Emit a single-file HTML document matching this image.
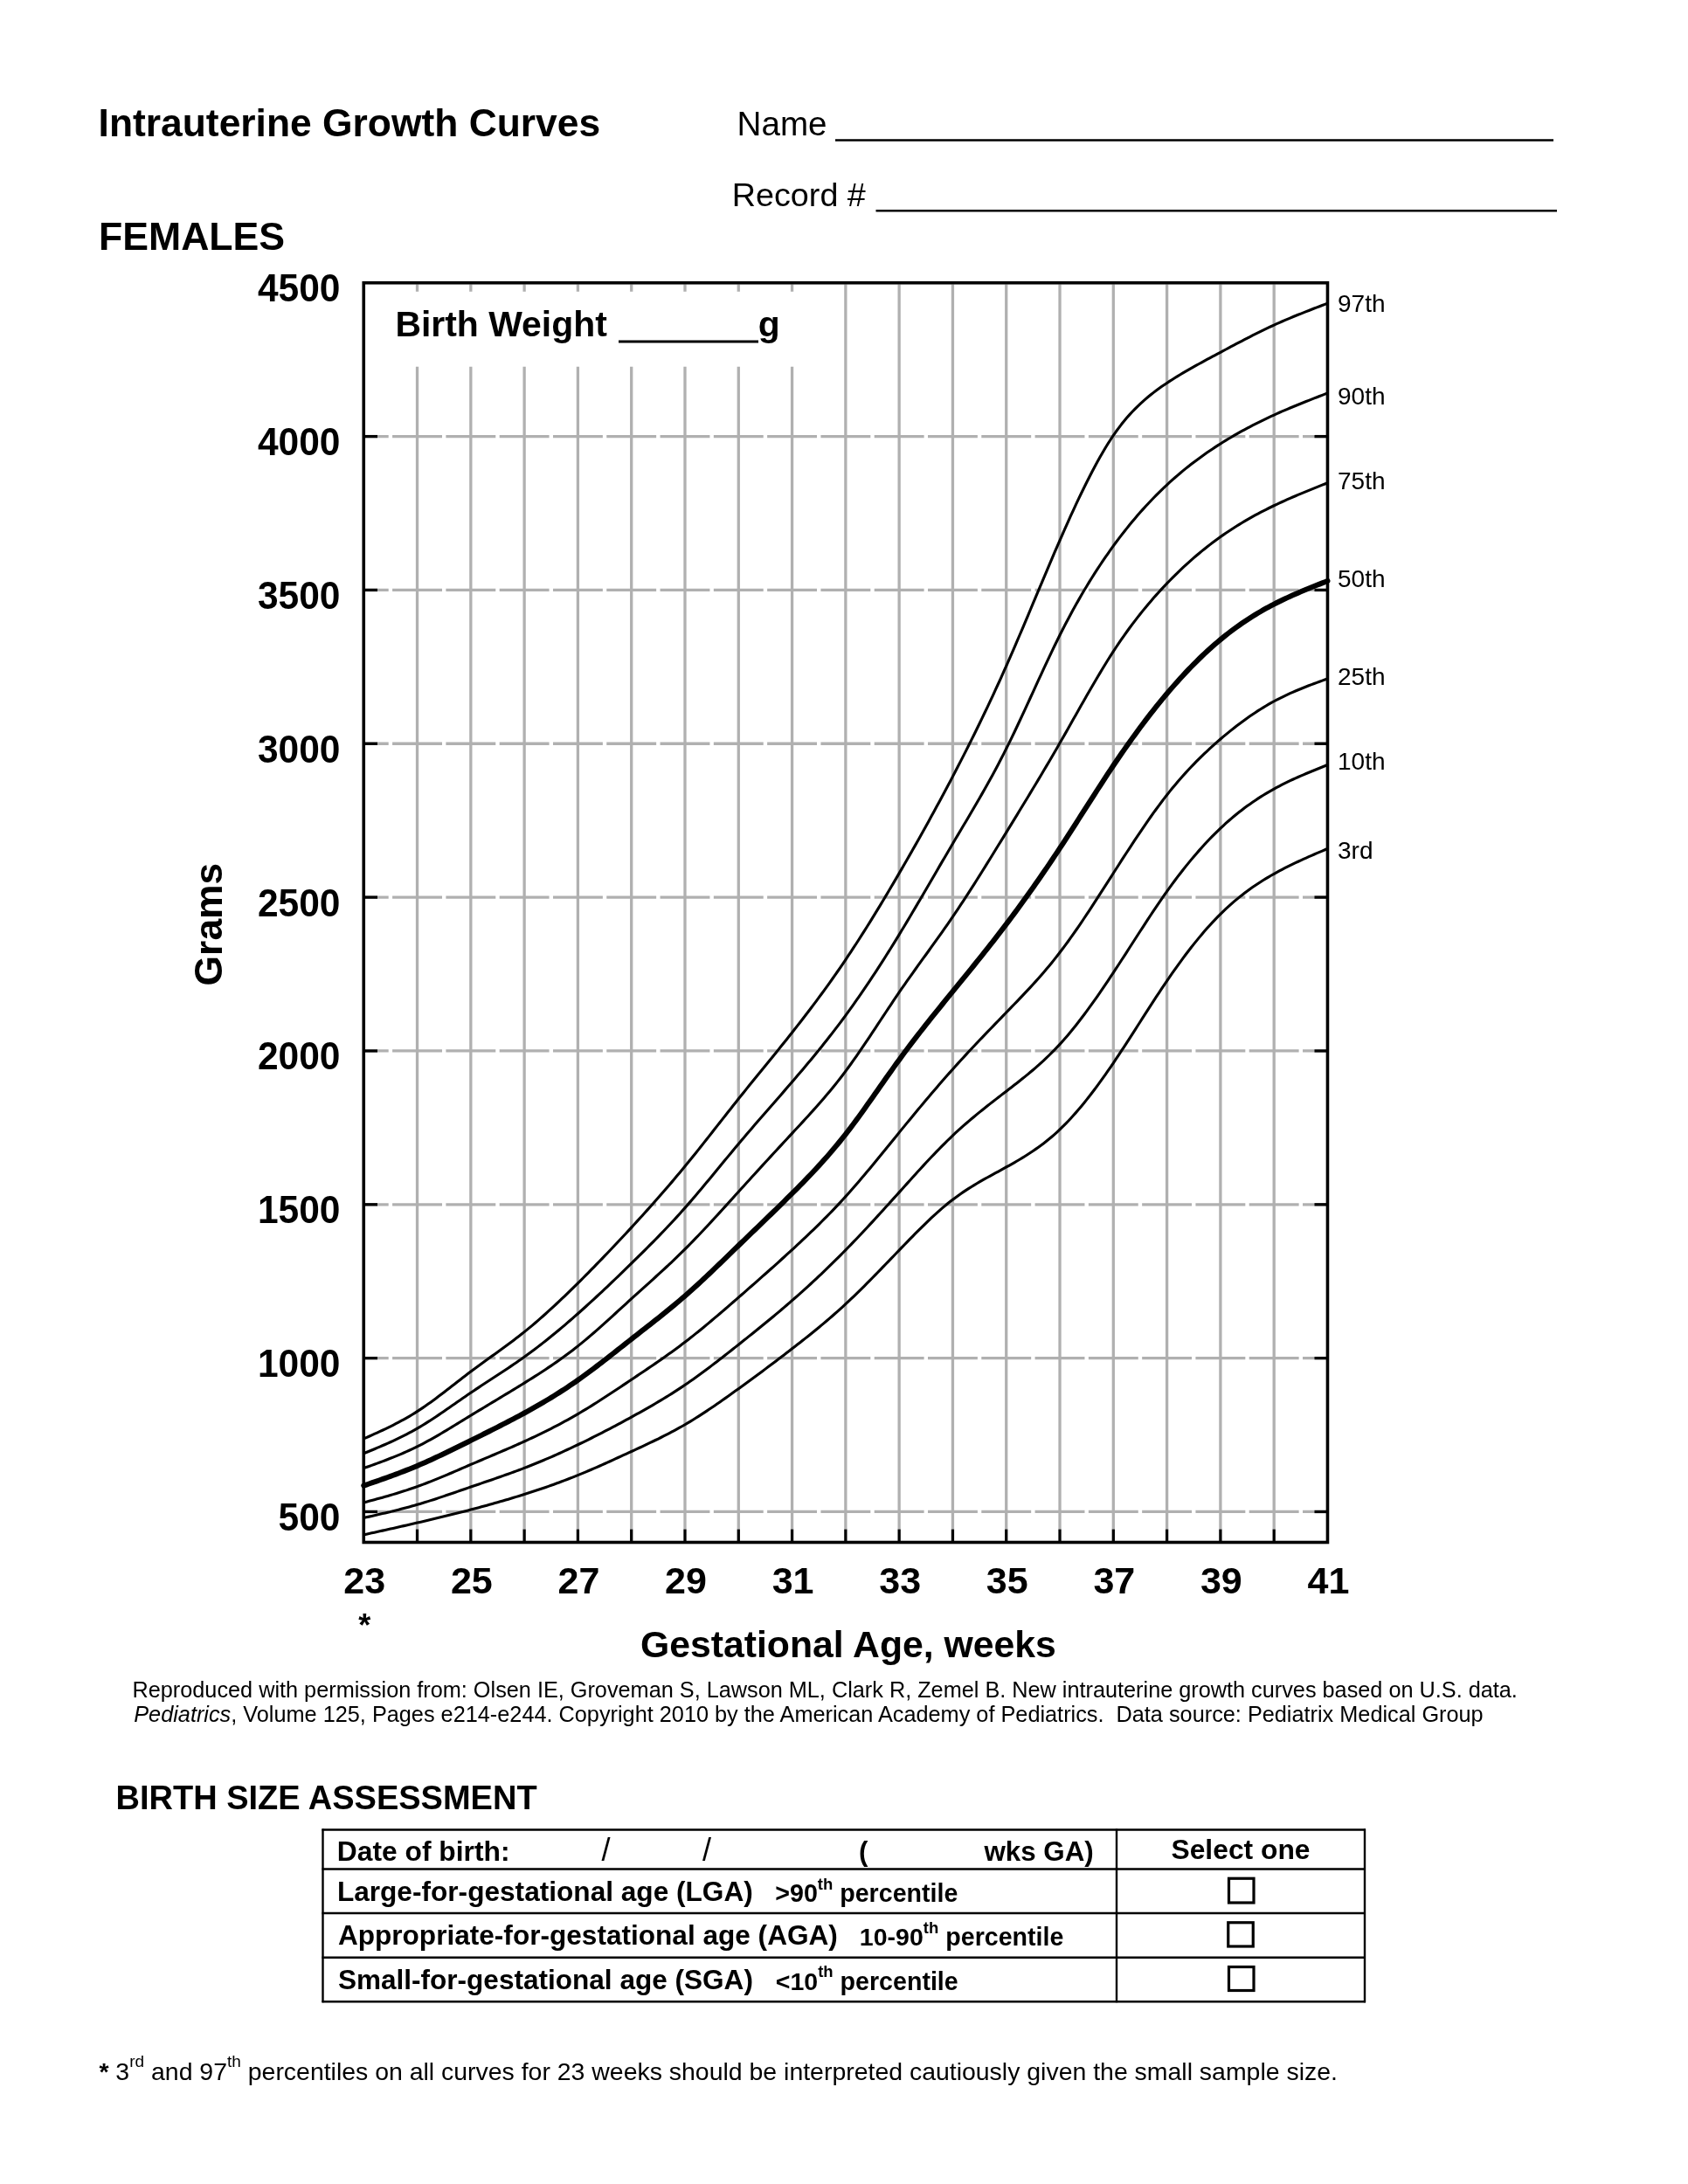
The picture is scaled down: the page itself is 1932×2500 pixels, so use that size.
<!DOCTYPE html>
<html><head><meta charset="utf-8"><title>Intrauterine Growth Curves - Females</title>
<style>
html,body{margin:0;padding:0;background:#fff;}
svg{display:block;filter:grayscale(100%);}
text{font-family:"Liberation Sans", Arial, Helvetica, sans-serif;fill:#000;}
</style></head>
<body>
<svg width="1932" height="2500" viewBox="0 0 1932 2500">
<rect x="0" y="0" width="1932" height="2500" fill="#fff"/>
<g id="chart">
<line x1="477.54" y1="325.5" x2="477.54" y2="333.8" stroke="#b0b0b0" stroke-width="3.3"/>
<line x1="477.54" y1="419.7" x2="477.54" y2="1750.5" stroke="#b0b0b0" stroke-width="3.3"/>
<line x1="477.54" y1="1750.5" x2="477.54" y2="1765" stroke="#000" stroke-width="3.3"/>
<line x1="538.83" y1="325.5" x2="538.83" y2="333.8" stroke="#b0b0b0" stroke-width="3.3"/>
<line x1="538.83" y1="419.7" x2="538.83" y2="1750.5" stroke="#b0b0b0" stroke-width="3.3"/>
<line x1="538.83" y1="1750.5" x2="538.83" y2="1765" stroke="#000" stroke-width="3.3"/>
<line x1="600.12" y1="325.5" x2="600.12" y2="333.8" stroke="#b0b0b0" stroke-width="3.3"/>
<line x1="600.12" y1="419.7" x2="600.12" y2="1750.5" stroke="#b0b0b0" stroke-width="3.3"/>
<line x1="600.12" y1="1750.5" x2="600.12" y2="1765" stroke="#000" stroke-width="3.3"/>
<line x1="661.41" y1="325.5" x2="661.41" y2="333.8" stroke="#b0b0b0" stroke-width="3.3"/>
<line x1="661.41" y1="419.7" x2="661.41" y2="1750.5" stroke="#b0b0b0" stroke-width="3.3"/>
<line x1="661.41" y1="1750.5" x2="661.41" y2="1765" stroke="#000" stroke-width="3.3"/>
<line x1="722.70" y1="325.5" x2="722.70" y2="333.8" stroke="#b0b0b0" stroke-width="3.3"/>
<line x1="722.70" y1="419.7" x2="722.70" y2="1750.5" stroke="#b0b0b0" stroke-width="3.3"/>
<line x1="722.70" y1="1750.5" x2="722.70" y2="1765" stroke="#000" stroke-width="3.3"/>
<line x1="783.99" y1="325.5" x2="783.99" y2="333.8" stroke="#b0b0b0" stroke-width="3.3"/>
<line x1="783.99" y1="419.7" x2="783.99" y2="1750.5" stroke="#b0b0b0" stroke-width="3.3"/>
<line x1="783.99" y1="1750.5" x2="783.99" y2="1765" stroke="#000" stroke-width="3.3"/>
<line x1="845.28" y1="325.5" x2="845.28" y2="333.8" stroke="#b0b0b0" stroke-width="3.3"/>
<line x1="845.28" y1="419.7" x2="845.28" y2="1750.5" stroke="#b0b0b0" stroke-width="3.3"/>
<line x1="845.28" y1="1750.5" x2="845.28" y2="1765" stroke="#000" stroke-width="3.3"/>
<line x1="906.57" y1="325.5" x2="906.57" y2="333.8" stroke="#b0b0b0" stroke-width="3.3"/>
<line x1="906.57" y1="419.7" x2="906.57" y2="1750.5" stroke="#b0b0b0" stroke-width="3.3"/>
<line x1="906.57" y1="1750.5" x2="906.57" y2="1765" stroke="#000" stroke-width="3.3"/>
<line x1="967.86" y1="325.5" x2="967.86" y2="1750.5" stroke="#b0b0b0" stroke-width="3.3"/>
<line x1="967.86" y1="1750.5" x2="967.86" y2="1765" stroke="#000" stroke-width="3.3"/>
<line x1="1029.15" y1="325.5" x2="1029.15" y2="1750.5" stroke="#b0b0b0" stroke-width="3.3"/>
<line x1="1029.15" y1="1750.5" x2="1029.15" y2="1765" stroke="#000" stroke-width="3.3"/>
<line x1="1090.44" y1="325.5" x2="1090.44" y2="1750.5" stroke="#b0b0b0" stroke-width="3.3"/>
<line x1="1090.44" y1="1750.5" x2="1090.44" y2="1765" stroke="#000" stroke-width="3.3"/>
<line x1="1151.73" y1="325.5" x2="1151.73" y2="1750.5" stroke="#b0b0b0" stroke-width="3.3"/>
<line x1="1151.73" y1="1750.5" x2="1151.73" y2="1765" stroke="#000" stroke-width="3.3"/>
<line x1="1213.02" y1="325.5" x2="1213.02" y2="1750.5" stroke="#b0b0b0" stroke-width="3.3"/>
<line x1="1213.02" y1="1750.5" x2="1213.02" y2="1765" stroke="#000" stroke-width="3.3"/>
<line x1="1274.31" y1="325.5" x2="1274.31" y2="1750.5" stroke="#b0b0b0" stroke-width="3.3"/>
<line x1="1274.31" y1="1750.5" x2="1274.31" y2="1765" stroke="#000" stroke-width="3.3"/>
<line x1="1335.60" y1="325.5" x2="1335.60" y2="1750.5" stroke="#b0b0b0" stroke-width="3.3"/>
<line x1="1335.60" y1="1750.5" x2="1335.60" y2="1765" stroke="#000" stroke-width="3.3"/>
<line x1="1396.89" y1="325.5" x2="1396.89" y2="1750.5" stroke="#b0b0b0" stroke-width="3.3"/>
<line x1="1396.89" y1="1750.5" x2="1396.89" y2="1765" stroke="#000" stroke-width="3.3"/>
<line x1="1458.18" y1="325.5" x2="1458.18" y2="1750.5" stroke="#b0b0b0" stroke-width="3.3"/>
<line x1="1458.18" y1="1750.5" x2="1458.18" y2="1765" stroke="#000" stroke-width="3.3"/>
<path d="M418.00,1730.47H444.69 M449.09,1730.47H505.99 M510.38,1730.47H567.27 M571.68,1730.47H628.56 M632.97,1730.47H689.86 M694.26,1730.47H751.14 M755.55,1730.47H812.43 M816.84,1730.47H873.72 M878.12,1730.47H935.01 M939.42,1730.47H996.30 M1000.71,1730.47H1057.60 M1062.00,1730.47H1118.88 M1123.29,1730.47H1180.17 M1184.58,1730.47H1241.46 M1245.87,1730.47H1302.75 M1307.15,1730.47H1364.04 M1368.44,1730.47H1425.33 M1429.73,1730.47H1486.62 M1491.03,1730.47H1518.00" stroke="#b0b0b0" stroke-width="3.3" fill="none"/>
<line x1="416" y1="1730.47" x2="432" y2="1730.47" stroke="#000" stroke-width="3.3"/>
<line x1="1504.5" y1="1730.47" x2="1519.5" y2="1730.47" stroke="#000" stroke-width="3.3"/>
<path d="M418.00,1554.63H444.69 M449.09,1554.63H505.99 M510.38,1554.63H567.27 M571.68,1554.63H628.56 M632.97,1554.63H689.86 M694.26,1554.63H751.14 M755.55,1554.63H812.43 M816.84,1554.63H873.72 M878.12,1554.63H935.01 M939.42,1554.63H996.30 M1000.71,1554.63H1057.60 M1062.00,1554.63H1118.88 M1123.29,1554.63H1180.17 M1184.58,1554.63H1241.46 M1245.87,1554.63H1302.75 M1307.15,1554.63H1364.04 M1368.44,1554.63H1425.33 M1429.73,1554.63H1486.62 M1491.03,1554.63H1518.00" stroke="#b0b0b0" stroke-width="3.3" fill="none"/>
<line x1="416" y1="1554.63" x2="432" y2="1554.63" stroke="#000" stroke-width="3.3"/>
<line x1="1504.5" y1="1554.63" x2="1519.5" y2="1554.63" stroke="#000" stroke-width="3.3"/>
<path d="M418.00,1378.79H444.69 M449.09,1378.79H505.99 M510.38,1378.79H567.27 M571.68,1378.79H628.56 M632.97,1378.79H689.86 M694.26,1378.79H751.14 M755.55,1378.79H812.43 M816.84,1378.79H873.72 M878.12,1378.79H935.01 M939.42,1378.79H996.30 M1000.71,1378.79H1057.60 M1062.00,1378.79H1118.88 M1123.29,1378.79H1180.17 M1184.58,1378.79H1241.46 M1245.87,1378.79H1302.75 M1307.15,1378.79H1364.04 M1368.44,1378.79H1425.33 M1429.73,1378.79H1486.62 M1491.03,1378.79H1518.00" stroke="#b0b0b0" stroke-width="3.3" fill="none"/>
<line x1="416" y1="1378.79" x2="432" y2="1378.79" stroke="#000" stroke-width="3.3"/>
<line x1="1504.5" y1="1378.79" x2="1519.5" y2="1378.79" stroke="#000" stroke-width="3.3"/>
<path d="M418.00,1202.95H444.69 M449.09,1202.95H505.99 M510.38,1202.95H567.27 M571.68,1202.95H628.56 M632.97,1202.95H689.86 M694.26,1202.95H751.14 M755.55,1202.95H812.43 M816.84,1202.95H873.72 M878.12,1202.95H935.01 M939.42,1202.95H996.30 M1000.71,1202.95H1057.60 M1062.00,1202.95H1118.88 M1123.29,1202.95H1180.17 M1184.58,1202.95H1241.46 M1245.87,1202.95H1302.75 M1307.15,1202.95H1364.04 M1368.44,1202.95H1425.33 M1429.73,1202.95H1486.62 M1491.03,1202.95H1518.00" stroke="#b0b0b0" stroke-width="3.3" fill="none"/>
<line x1="416" y1="1202.95" x2="432" y2="1202.95" stroke="#000" stroke-width="3.3"/>
<line x1="1504.5" y1="1202.95" x2="1519.5" y2="1202.95" stroke="#000" stroke-width="3.3"/>
<path d="M418.00,1027.11H444.69 M449.09,1027.11H505.99 M510.38,1027.11H567.27 M571.68,1027.11H628.56 M632.97,1027.11H689.86 M694.26,1027.11H751.14 M755.55,1027.11H812.43 M816.84,1027.11H873.72 M878.12,1027.11H935.01 M939.42,1027.11H996.30 M1000.71,1027.11H1057.60 M1062.00,1027.11H1118.88 M1123.29,1027.11H1180.17 M1184.58,1027.11H1241.46 M1245.87,1027.11H1302.75 M1307.15,1027.11H1364.04 M1368.44,1027.11H1425.33 M1429.73,1027.11H1486.62 M1491.03,1027.11H1518.00" stroke="#b0b0b0" stroke-width="3.3" fill="none"/>
<line x1="416" y1="1027.11" x2="432" y2="1027.11" stroke="#000" stroke-width="3.3"/>
<line x1="1504.5" y1="1027.11" x2="1519.5" y2="1027.11" stroke="#000" stroke-width="3.3"/>
<path d="M418.00,851.27H444.69 M449.09,851.27H505.99 M510.38,851.27H567.27 M571.68,851.27H628.56 M632.97,851.27H689.86 M694.26,851.27H751.14 M755.55,851.27H812.43 M816.84,851.27H873.72 M878.12,851.27H935.01 M939.42,851.27H996.30 M1000.71,851.27H1057.60 M1062.00,851.27H1118.88 M1123.29,851.27H1180.17 M1184.58,851.27H1241.46 M1245.87,851.27H1302.75 M1307.15,851.27H1364.04 M1368.44,851.27H1425.33 M1429.73,851.27H1486.62 M1491.03,851.27H1518.00" stroke="#b0b0b0" stroke-width="3.3" fill="none"/>
<line x1="416" y1="851.27" x2="432" y2="851.27" stroke="#000" stroke-width="3.3"/>
<line x1="1504.5" y1="851.27" x2="1519.5" y2="851.27" stroke="#000" stroke-width="3.3"/>
<path d="M418.00,675.43H444.69 M449.09,675.43H505.99 M510.38,675.43H567.27 M571.68,675.43H628.56 M632.97,675.43H689.86 M694.26,675.43H751.14 M755.55,675.43H812.43 M816.84,675.43H873.72 M878.12,675.43H935.01 M939.42,675.43H996.30 M1000.71,675.43H1057.60 M1062.00,675.43H1118.88 M1123.29,675.43H1180.17 M1184.58,675.43H1241.46 M1245.87,675.43H1302.75 M1307.15,675.43H1364.04 M1368.44,675.43H1425.33 M1429.73,675.43H1486.62 M1491.03,675.43H1518.00" stroke="#b0b0b0" stroke-width="3.3" fill="none"/>
<line x1="416" y1="675.43" x2="432" y2="675.43" stroke="#000" stroke-width="3.3"/>
<line x1="1504.5" y1="675.43" x2="1519.5" y2="675.43" stroke="#000" stroke-width="3.3"/>
<path d="M418.00,499.59H444.69 M449.09,499.59H505.99 M510.38,499.59H567.27 M571.68,499.59H628.56 M632.97,499.59H689.86 M694.26,499.59H751.14 M755.55,499.59H812.43 M816.84,499.59H873.72 M878.12,499.59H935.01 M939.42,499.59H996.30 M1000.71,499.59H1057.60 M1062.00,499.59H1118.88 M1123.29,499.59H1180.17 M1184.58,499.59H1241.46 M1245.87,499.59H1302.75 M1307.15,499.59H1364.04 M1368.44,499.59H1425.33 M1429.73,499.59H1486.62 M1491.03,499.59H1518.00" stroke="#b0b0b0" stroke-width="3.3" fill="none"/>
<line x1="416" y1="499.59" x2="432" y2="499.59" stroke="#000" stroke-width="3.3"/>
<line x1="1504.5" y1="499.59" x2="1519.5" y2="499.59" stroke="#000" stroke-width="3.3"/>
<path d="M416.25,1646.95 L419.31,1645.58 L422.38,1644.22 L425.44,1642.85 L428.51,1641.46 L431.57,1640.07 L434.64,1638.66 L437.70,1637.24 L440.77,1635.79 L443.83,1634.31 L446.90,1632.82 L449.96,1631.29 L453.02,1629.72 L456.09,1628.12 L459.15,1626.49 L462.22,1624.80 L465.28,1623.08 L468.35,1621.30 L471.41,1619.48 L474.48,1617.60 L477.54,1615.66 L480.60,1613.66 L483.67,1611.61 L486.73,1609.51 L489.80,1607.35 L492.86,1605.16 L495.93,1602.93 L498.99,1600.66 L502.06,1598.36 L505.12,1596.04 L508.19,1593.69 L511.25,1591.33 L514.31,1588.95 L517.38,1586.57 L520.44,1584.18 L523.51,1581.80 L526.57,1579.41 L529.64,1577.04 L532.70,1574.68 L535.77,1572.34 L538.83,1570.02 L541.89,1567.72 L544.96,1565.45 L548.02,1563.20 L551.09,1560.96 L554.15,1558.74 L557.22,1556.53 L560.28,1554.32 L563.35,1552.12 L566.41,1549.91 L569.48,1547.70 L572.54,1545.48 L575.60,1543.26 L578.67,1541.01 L581.73,1538.75 L584.80,1536.47 L587.86,1534.16 L590.93,1531.83 L593.99,1529.47 L597.06,1527.07 L600.12,1524.63 L603.18,1522.15 L606.25,1519.63 L609.31,1517.07 L612.38,1514.48 L615.44,1511.84 L618.51,1509.18 L621.57,1506.47 L624.64,1503.74 L627.70,1500.97 L630.77,1498.18 L633.83,1495.35 L636.89,1492.50 L639.96,1489.62 L643.02,1486.72 L646.09,1483.79 L649.15,1480.84 L652.22,1477.87 L655.28,1474.87 L658.35,1471.86 L661.41,1468.83 L664.47,1465.79 L667.54,1462.73 L670.60,1459.65 L673.67,1456.56 L676.73,1453.45 L679.80,1450.32 L682.86,1447.18 L685.93,1444.03 L688.99,1440.86 L692.06,1437.68 L695.12,1434.48 L698.18,1431.27 L701.25,1428.04 L704.31,1424.80 L707.38,1421.54 L710.44,1418.28 L713.51,1415.00 L716.57,1411.70 L719.64,1408.40 L722.70,1405.08 L725.76,1401.75 L728.83,1398.40 L731.89,1395.05 L734.96,1391.67 L738.02,1388.28 L741.09,1384.88 L744.15,1381.46 L747.22,1378.02 L750.28,1374.56 L753.35,1371.08 L756.41,1367.58 L759.47,1364.06 L762.54,1360.52 L765.60,1356.96 L768.67,1353.37 L771.73,1349.76 L774.80,1346.12 L777.86,1342.46 L780.93,1338.77 L783.99,1335.05 L787.05,1331.31 L790.12,1327.54 L793.18,1323.75 L796.25,1319.93 L799.31,1316.10 L802.38,1312.25 L805.44,1308.38 L808.51,1304.50 L811.57,1300.61 L814.64,1296.72 L817.70,1292.82 L820.76,1288.91 L823.83,1285.01 L826.89,1281.10 L829.96,1277.20 L833.02,1273.31 L836.09,1269.42 L839.15,1265.55 L842.22,1261.68 L845.28,1257.83 L848.34,1254.00 L851.41,1250.19 L854.47,1246.38 L857.54,1242.59 L860.60,1238.81 L863.67,1235.04 L866.73,1231.27 L869.80,1227.50 L872.86,1223.74 L875.93,1219.98 L878.99,1216.22 L882.05,1212.45 L885.12,1208.68 L888.18,1204.90 L891.25,1201.11 L894.31,1197.31 L897.38,1193.49 L900.44,1189.66 L903.51,1185.82 L906.57,1181.95 L909.63,1178.07 L912.70,1174.16 L915.76,1170.23 L918.83,1166.27 L921.89,1162.29 L924.96,1158.28 L928.02,1154.24 L931.09,1150.18 L934.15,1146.08 L937.22,1141.95 L940.28,1137.78 L943.34,1133.58 L946.41,1129.34 L949.47,1125.07 L952.54,1120.76 L955.60,1116.40 L958.67,1112.00 L961.73,1107.57 L964.80,1103.08 L967.86,1098.55 L970.92,1093.98 L973.99,1089.36 L977.05,1084.69 L980.12,1079.98 L983.18,1075.23 L986.25,1070.43 L989.31,1065.60 L992.38,1060.73 L995.44,1055.82 L998.51,1050.87 L1001.57,1045.89 L1004.63,1040.87 L1007.70,1035.82 L1010.76,1030.74 L1013.83,1025.62 L1016.89,1020.48 L1019.96,1015.31 L1023.02,1010.11 L1026.09,1004.89 L1029.15,999.64 L1032.21,994.36 L1035.28,989.06 L1038.34,983.74 L1041.41,978.39 L1044.47,973.01 L1047.54,967.61 L1050.60,962.18 L1053.67,956.72 L1056.73,951.24 L1059.80,945.72 L1062.86,940.18 L1065.92,934.60 L1068.99,929.00 L1072.05,923.36 L1075.12,917.69 L1078.18,911.99 L1081.25,906.25 L1084.31,900.49 L1087.38,894.68 L1090.44,888.85 L1093.50,882.98 L1096.57,877.07 L1099.63,871.12 L1102.70,865.13 L1105.76,859.10 L1108.83,853.02 L1111.89,846.90 L1114.96,840.73 L1118.02,834.51 L1121.09,828.25 L1124.15,821.92 L1127.21,815.54 L1130.28,809.11 L1133.34,802.62 L1136.41,796.06 L1139.47,789.45 L1142.54,782.77 L1145.60,776.03 L1148.67,769.21 L1151.73,762.33 L1154.79,755.38 L1157.86,748.37 L1160.92,741.30 L1163.99,734.17 L1167.05,727.00 L1170.12,719.80 L1173.18,712.56 L1176.25,705.29 L1179.31,698.01 L1182.38,690.72 L1185.44,683.42 L1188.50,676.12 L1191.57,668.83 L1194.63,661.55 L1197.70,654.29 L1200.76,647.06 L1203.83,639.87 L1206.89,632.71 L1209.96,625.60 L1213.02,618.55 L1216.08,611.55 L1219.15,604.62 L1222.21,597.76 L1225.28,590.98 L1228.34,584.29 L1231.41,577.68 L1234.47,571.17 L1237.54,564.76 L1240.60,558.46 L1243.67,552.27 L1246.73,546.20 L1249.79,540.26 L1252.86,534.46 L1255.92,528.80 L1258.99,523.30 L1262.05,517.96 L1265.12,512.80 L1268.18,507.81 L1271.25,503.01 L1274.31,498.42 L1277.37,494.02 L1280.44,489.83 L1283.50,485.83 L1286.57,482.00 L1289.63,478.35 L1292.70,474.86 L1295.76,471.53 L1298.83,468.34 L1301.89,465.28 L1304.96,462.36 L1308.02,459.55 L1311.08,456.85 L1314.15,454.26 L1317.21,451.76 L1320.28,449.36 L1323.34,447.03 L1326.41,444.78 L1329.47,442.61 L1332.54,440.49 L1335.60,438.42 L1338.66,436.41 L1341.73,434.44 L1344.79,432.51 L1347.86,430.62 L1350.92,428.76 L1353.99,426.93 L1357.05,425.14 L1360.12,423.37 L1363.18,421.62 L1366.25,419.89 L1369.31,418.18 L1372.37,416.49 L1375.44,414.81 L1378.50,413.14 L1381.57,411.48 L1384.63,409.83 L1387.70,408.18 L1390.76,406.54 L1393.83,404.90 L1396.89,403.27 L1399.95,401.63 L1403.02,400.00 L1406.08,398.36 L1409.15,396.73 L1412.21,395.11 L1415.28,393.49 L1418.34,391.88 L1421.41,390.27 L1424.47,388.68 L1427.54,387.09 L1430.60,385.52 L1433.66,383.96 L1436.73,382.41 L1439.79,380.88 L1442.86,379.37 L1445.92,377.87 L1448.99,376.40 L1452.05,374.94 L1455.12,373.50 L1458.18,372.09 L1461.24,370.70 L1464.31,369.33 L1467.37,367.99 L1470.44,366.66 L1473.50,365.36 L1476.57,364.07 L1479.63,362.80 L1482.70,361.54 L1485.76,360.30 L1488.83,359.07 L1491.89,357.85 L1494.95,356.64 L1498.02,355.45 L1501.08,354.26 L1504.15,353.07 L1507.21,351.90 L1510.28,350.73 L1513.34,349.56 L1516.41,348.40 L1519.47,347.23" stroke="#000" stroke-width="3.1" fill="none" stroke-linejoin="round"/>
<path d="M416.25,1663.79 L419.31,1662.53 L422.38,1661.26 L425.44,1659.99 L428.51,1658.70 L431.57,1657.41 L434.64,1656.11 L437.70,1654.79 L440.77,1653.46 L443.83,1652.10 L446.90,1650.72 L449.96,1649.32 L453.02,1647.88 L456.09,1646.42 L459.15,1644.92 L462.22,1643.39 L465.28,1641.82 L468.35,1640.21 L471.41,1638.56 L474.48,1636.86 L477.54,1635.11 L480.60,1633.32 L483.67,1631.47 L486.73,1629.58 L489.80,1627.66 L492.86,1625.69 L495.93,1623.69 L498.99,1621.67 L502.06,1619.61 L505.12,1617.54 L508.19,1615.44 L511.25,1613.33 L514.31,1611.21 L517.38,1609.08 L520.44,1606.95 L523.51,1604.81 L526.57,1602.68 L529.64,1600.55 L532.70,1598.43 L535.77,1596.33 L538.83,1594.24 L541.89,1592.17 L544.96,1590.12 L548.02,1588.09 L551.09,1586.06 L554.15,1584.05 L557.22,1582.04 L560.28,1580.04 L563.35,1578.04 L566.41,1576.04 L569.48,1574.04 L572.54,1572.03 L575.60,1570.01 L578.67,1567.98 L581.73,1565.94 L584.80,1563.88 L587.86,1561.80 L590.93,1559.70 L593.99,1557.58 L597.06,1555.43 L600.12,1553.25 L603.18,1551.04 L606.25,1548.79 L609.31,1546.52 L612.38,1544.22 L615.44,1541.89 L618.51,1539.52 L621.57,1537.14 L624.64,1534.72 L627.70,1532.27 L630.77,1529.80 L633.83,1527.30 L636.89,1524.78 L639.96,1522.23 L643.02,1519.66 L646.09,1517.06 L649.15,1514.44 L652.22,1511.80 L655.28,1509.14 L658.35,1506.45 L661.41,1503.74 L664.47,1501.02 L667.54,1498.27 L670.60,1495.50 L673.67,1492.72 L676.73,1489.92 L679.80,1487.10 L682.86,1484.26 L685.93,1481.41 L688.99,1478.54 L692.06,1475.66 L695.12,1472.76 L698.18,1469.85 L701.25,1466.93 L704.31,1464.00 L707.38,1461.05 L710.44,1458.10 L713.51,1455.13 L716.57,1452.16 L719.64,1449.17 L722.70,1446.18 L725.76,1443.18 L728.83,1440.17 L731.89,1437.15 L734.96,1434.12 L738.02,1431.08 L741.09,1428.02 L744.15,1424.94 L747.22,1421.84 L750.28,1418.72 L753.35,1415.59 L756.41,1412.42 L759.47,1409.23 L762.54,1406.02 L765.60,1402.78 L768.67,1399.50 L771.73,1396.20 L774.80,1392.86 L777.86,1389.48 L780.93,1386.07 L783.99,1382.62 L787.05,1379.13 L790.12,1375.61 L793.18,1372.05 L796.25,1368.46 L799.31,1364.84 L802.38,1361.20 L805.44,1357.54 L808.51,1353.86 L811.57,1350.16 L814.64,1346.45 L817.70,1342.73 L820.76,1339.01 L823.83,1335.29 L826.89,1331.56 L829.96,1327.84 L833.02,1324.12 L836.09,1320.42 L839.15,1316.72 L842.22,1313.05 L845.28,1309.39 L848.34,1305.75 L851.41,1302.14 L854.47,1298.54 L857.54,1294.96 L860.60,1291.39 L863.67,1287.84 L866.73,1284.30 L869.80,1280.76 L872.86,1277.24 L875.93,1273.72 L878.99,1270.21 L882.05,1266.70 L885.12,1263.19 L888.18,1259.68 L891.25,1256.17 L894.31,1252.65 L897.38,1249.13 L900.44,1245.59 L903.51,1242.05 L906.57,1238.50 L909.63,1234.93 L912.70,1231.35 L915.76,1227.76 L918.83,1224.14 L921.89,1220.50 L924.96,1216.84 L928.02,1213.16 L931.09,1209.45 L934.15,1205.72 L937.22,1201.95 L940.28,1198.16 L943.34,1194.33 L946.41,1190.47 L949.47,1186.57 L952.54,1182.63 L955.60,1178.65 L958.67,1174.63 L961.73,1170.57 L964.80,1166.46 L967.86,1162.31 L970.92,1158.11 L973.99,1153.85 L977.05,1149.56 L980.12,1145.21 L983.18,1140.82 L986.25,1136.38 L989.31,1131.90 L992.38,1127.37 L995.44,1122.80 L998.51,1118.19 L1001.57,1113.54 L1004.63,1108.84 L1007.70,1104.10 L1010.76,1099.32 L1013.83,1094.50 L1016.89,1089.64 L1019.96,1084.74 L1023.02,1079.81 L1026.09,1074.83 L1029.15,1069.82 L1032.21,1064.78 L1035.28,1059.70 L1038.34,1054.59 L1041.41,1049.45 L1044.47,1044.29 L1047.54,1039.10 L1050.60,1033.90 L1053.67,1028.68 L1056.73,1023.44 L1059.80,1018.20 L1062.86,1012.94 L1065.92,1007.68 L1068.99,1002.42 L1072.05,997.16 L1075.12,991.90 L1078.18,986.65 L1081.25,981.41 L1084.31,976.18 L1087.38,970.96 L1090.44,965.76 L1093.50,960.58 L1096.57,955.41 L1099.63,950.25 L1102.70,945.08 L1105.76,939.92 L1108.83,934.73 L1111.89,929.53 L1114.96,924.30 L1118.02,919.04 L1121.09,913.74 L1124.15,908.39 L1127.21,902.99 L1130.28,897.53 L1133.34,892.00 L1136.41,886.40 L1139.47,880.72 L1142.54,874.95 L1145.60,869.09 L1148.67,863.13 L1151.73,857.06 L1154.79,850.88 L1157.86,844.60 L1160.92,838.23 L1163.99,831.78 L1167.05,825.26 L1170.12,818.69 L1173.18,812.07 L1176.25,805.41 L1179.31,798.74 L1182.38,792.05 L1185.44,785.36 L1188.50,778.69 L1191.57,772.03 L1194.63,765.41 L1197.70,758.84 L1200.76,752.32 L1203.83,745.87 L1206.89,739.50 L1209.96,733.23 L1213.02,727.05 L1216.08,720.98 L1219.15,715.03 L1222.21,709.19 L1225.28,703.45 L1228.34,697.82 L1231.41,692.30 L1234.47,686.88 L1237.54,681.56 L1240.60,676.33 L1243.67,671.21 L1246.73,666.18 L1249.79,661.25 L1252.86,656.40 L1255.92,651.65 L1258.99,646.99 L1262.05,642.41 L1265.12,637.92 L1268.18,633.51 L1271.25,629.18 L1274.31,624.94 L1277.37,620.77 L1280.44,616.68 L1283.50,612.66 L1286.57,608.72 L1289.63,604.85 L1292.70,601.05 L1295.76,597.33 L1298.83,593.68 L1301.89,590.10 L1304.96,586.58 L1308.02,583.14 L1311.08,579.76 L1314.15,576.45 L1317.21,573.20 L1320.28,570.01 L1323.34,566.89 L1326.41,563.83 L1329.47,560.84 L1332.54,557.90 L1335.60,555.02 L1338.66,552.20 L1341.73,549.43 L1344.79,546.72 L1347.86,544.07 L1350.92,541.46 L1353.99,538.91 L1357.05,536.41 L1360.12,533.96 L1363.18,531.56 L1366.25,529.20 L1369.31,526.89 L1372.37,524.63 L1375.44,522.41 L1378.50,520.22 L1381.57,518.08 L1384.63,515.98 L1387.70,513.92 L1390.76,511.90 L1393.83,509.91 L1396.89,507.95 L1399.95,506.03 L1403.02,504.14 L1406.08,502.28 L1409.15,500.46 L1412.21,498.66 L1415.28,496.90 L1418.34,495.16 L1421.41,493.46 L1424.47,491.78 L1427.54,490.13 L1430.60,488.51 L1433.66,486.91 L1436.73,485.34 L1439.79,483.80 L1442.86,482.28 L1445.92,480.79 L1448.99,479.31 L1452.05,477.87 L1455.12,476.44 L1458.18,475.04 L1461.24,473.65 L1464.31,472.29 L1467.37,470.95 L1470.44,469.62 L1473.50,468.31 L1476.57,467.02 L1479.63,465.74 L1482.70,464.47 L1485.76,463.22 L1488.83,461.98 L1491.89,460.75 L1494.95,459.53 L1498.02,458.32 L1501.08,457.11 L1504.15,455.92 L1507.21,454.72 L1510.28,453.53 L1513.34,452.35 L1516.41,451.17 L1519.47,449.98" stroke="#000" stroke-width="3.1" fill="none" stroke-linejoin="round"/>
<path d="M416.25,1680.63 L419.31,1679.54 L422.38,1678.44 L425.44,1677.34 L428.51,1676.23 L431.57,1675.11 L434.64,1673.98 L437.70,1672.84 L440.77,1671.69 L443.83,1670.51 L446.90,1669.32 L449.96,1668.11 L453.02,1666.87 L456.09,1665.61 L459.15,1664.32 L462.22,1663.00 L465.28,1661.65 L468.35,1660.26 L471.41,1658.84 L474.48,1657.38 L477.54,1655.88 L480.60,1654.34 L483.67,1652.76 L486.73,1651.14 L489.80,1649.48 L492.86,1647.80 L495.93,1646.08 L498.99,1644.33 L502.06,1642.56 L505.12,1640.77 L508.19,1638.96 L511.25,1637.13 L514.31,1635.28 L517.38,1633.42 L520.44,1631.55 L523.51,1629.68 L526.57,1627.80 L529.64,1625.91 L532.70,1624.03 L535.77,1622.14 L538.83,1620.26 L541.89,1618.39 L544.96,1616.53 L548.02,1614.66 L551.09,1612.81 L554.15,1610.96 L557.22,1609.11 L560.28,1607.26 L563.35,1605.42 L566.41,1603.57 L569.48,1601.73 L572.54,1599.88 L575.60,1598.03 L578.67,1596.18 L581.73,1594.33 L584.80,1592.47 L587.86,1590.60 L590.93,1588.73 L593.99,1586.86 L597.06,1584.97 L600.12,1583.08 L603.18,1581.18 L606.25,1579.27 L609.31,1577.34 L612.38,1575.40 L615.44,1573.44 L618.51,1571.47 L621.57,1569.47 L624.64,1567.45 L627.70,1565.41 L630.77,1563.35 L633.83,1561.25 L636.89,1559.13 L639.96,1556.98 L643.02,1554.79 L646.09,1552.57 L649.15,1550.31 L652.22,1548.01 L655.28,1545.68 L658.35,1543.30 L661.41,1540.88 L664.47,1538.41 L667.54,1535.90 L670.60,1533.35 L673.67,1530.77 L676.73,1528.15 L679.80,1525.49 L682.86,1522.81 L685.93,1520.11 L688.99,1517.38 L692.06,1514.63 L695.12,1511.87 L698.18,1509.09 L701.25,1506.29 L704.31,1503.49 L707.38,1500.69 L710.44,1497.88 L713.51,1495.07 L716.57,1492.27 L719.64,1489.47 L722.70,1486.67 L725.76,1483.89 L728.83,1481.12 L731.89,1478.35 L734.96,1475.59 L738.02,1472.83 L741.09,1470.07 L744.15,1467.31 L747.22,1464.53 L750.28,1461.76 L753.35,1458.97 L756.41,1456.16 L759.47,1453.34 L762.54,1450.51 L765.60,1447.65 L768.67,1444.77 L771.73,1441.86 L774.80,1438.93 L777.86,1435.96 L780.93,1432.97 L783.99,1429.93 L787.05,1426.86 L790.12,1423.76 L793.18,1420.62 L796.25,1417.45 L799.31,1414.25 L802.38,1411.02 L805.44,1407.77 L808.51,1404.50 L811.57,1401.20 L814.64,1397.88 L817.70,1394.55 L820.76,1391.21 L823.83,1387.85 L826.89,1384.48 L829.96,1381.10 L833.02,1377.72 L836.09,1374.34 L839.15,1370.95 L842.22,1367.56 L845.28,1364.17 L848.34,1360.79 L851.41,1357.42 L854.47,1354.04 L857.54,1350.68 L860.60,1347.31 L863.67,1343.95 L866.73,1340.60 L869.80,1337.25 L872.86,1333.90 L875.93,1330.56 L878.99,1327.22 L882.05,1323.89 L885.12,1320.56 L888.18,1317.23 L891.25,1313.91 L894.31,1310.59 L897.38,1307.27 L900.44,1303.96 L903.51,1300.65 L906.57,1297.34 L909.63,1294.04 L912.70,1290.74 L915.76,1287.43 L918.83,1284.11 L921.89,1280.78 L924.96,1277.43 L928.02,1274.05 L931.09,1270.65 L934.15,1267.22 L937.22,1263.75 L940.28,1260.24 L943.34,1256.69 L946.41,1253.08 L949.47,1249.43 L952.54,1245.71 L955.60,1241.94 L958.67,1238.10 L961.73,1234.18 L964.80,1230.19 L967.86,1226.13 L970.92,1221.98 L973.99,1217.75 L977.05,1213.45 L980.12,1209.09 L983.18,1204.67 L986.25,1200.20 L989.31,1195.68 L992.38,1191.13 L995.44,1186.54 L998.51,1181.93 L1001.57,1177.31 L1004.63,1172.67 L1007.70,1168.02 L1010.76,1163.38 L1013.83,1158.74 L1016.89,1154.12 L1019.96,1149.52 L1023.02,1144.95 L1026.09,1140.41 L1029.15,1135.91 L1032.21,1131.46 L1035.28,1127.05 L1038.34,1122.68 L1041.41,1118.34 L1044.47,1114.03 L1047.54,1109.74 L1050.60,1105.47 L1053.67,1101.21 L1056.73,1096.96 L1059.80,1092.72 L1062.86,1088.48 L1065.92,1084.22 L1068.99,1079.96 L1072.05,1075.68 L1075.12,1071.38 L1078.18,1067.06 L1081.25,1062.71 L1084.31,1058.32 L1087.38,1053.89 L1090.44,1049.42 L1093.50,1044.89 L1096.57,1040.32 L1099.63,1035.71 L1102.70,1031.05 L1105.76,1026.36 L1108.83,1021.63 L1111.89,1016.86 L1114.96,1012.06 L1118.02,1007.23 L1121.09,1002.37 L1124.15,997.49 L1127.21,992.58 L1130.28,987.66 L1133.34,982.72 L1136.41,977.76 L1139.47,972.79 L1142.54,967.81 L1145.60,962.82 L1148.67,957.83 L1151.73,952.83 L1154.79,947.83 L1157.86,942.84 L1160.92,937.83 L1163.99,932.83 L1167.05,927.81 L1170.12,922.79 L1173.18,917.75 L1176.25,912.71 L1179.31,907.65 L1182.38,902.57 L1185.44,897.48 L1188.50,892.37 L1191.57,887.23 L1194.63,882.08 L1197.70,876.90 L1200.76,871.70 L1203.83,866.47 L1206.89,861.21 L1209.96,855.92 L1213.02,850.59 L1216.08,845.24 L1219.15,839.86 L1222.21,834.45 L1225.28,829.03 L1228.34,823.61 L1231.41,818.18 L1234.47,812.76 L1237.54,807.35 L1240.60,801.95 L1243.67,796.58 L1246.73,791.25 L1249.79,785.95 L1252.86,780.69 L1255.92,775.49 L1258.99,770.34 L1262.05,765.25 L1265.12,760.24 L1268.18,755.30 L1271.25,750.45 L1274.31,745.68 L1277.37,741.01 L1280.44,736.43 L1283.50,731.95 L1286.57,727.55 L1289.63,723.25 L1292.70,719.03 L1295.76,714.89 L1298.83,710.84 L1301.89,706.87 L1304.96,702.97 L1308.02,699.15 L1311.08,695.41 L1314.15,691.74 L1317.21,688.13 L1320.28,684.60 L1323.34,681.13 L1326.41,677.73 L1329.47,674.39 L1332.54,671.11 L1335.60,667.88 L1338.66,664.72 L1341.73,661.61 L1344.79,658.55 L1347.86,655.55 L1350.92,652.60 L1353.99,649.71 L1357.05,646.87 L1360.12,644.08 L1363.18,641.35 L1366.25,638.67 L1369.31,636.03 L1372.37,633.45 L1375.44,630.92 L1378.50,628.43 L1381.57,626.00 L1384.63,623.61 L1387.70,621.27 L1390.76,618.98 L1393.83,616.74 L1396.89,614.54 L1399.95,612.39 L1403.02,610.28 L1406.08,608.21 L1409.15,606.19 L1412.21,604.21 L1415.28,602.27 L1418.34,600.37 L1421.41,598.50 L1424.47,596.68 L1427.54,594.89 L1430.60,593.13 L1433.66,591.41 L1436.73,589.73 L1439.79,588.07 L1442.86,586.45 L1445.92,584.86 L1448.99,583.29 L1452.05,581.76 L1455.12,580.25 L1458.18,578.77 L1461.24,577.31 L1464.31,575.88 L1467.37,574.47 L1470.44,573.08 L1473.50,571.71 L1476.57,570.36 L1479.63,569.03 L1482.70,567.71 L1485.76,566.41 L1488.83,565.12 L1491.89,563.85 L1494.95,562.58 L1498.02,561.33 L1501.08,560.08 L1504.15,558.85 L1507.21,557.62 L1510.28,556.39 L1513.34,555.17 L1516.41,553.95 L1519.47,552.73" stroke="#000" stroke-width="3.1" fill="none" stroke-linejoin="round"/>
<path d="M416.25,1700.62 L419.31,1699.56 L422.38,1698.50 L425.44,1697.44 L428.51,1696.38 L431.57,1695.31 L434.64,1694.24 L437.70,1693.16 L440.77,1692.07 L443.83,1690.97 L446.90,1689.86 L449.96,1688.73 L453.02,1687.60 L456.09,1686.45 L459.15,1685.29 L462.22,1684.10 L465.28,1682.91 L468.35,1681.69 L471.41,1680.45 L474.48,1679.19 L477.54,1677.91 L480.60,1676.60 L483.67,1675.27 L486.73,1673.92 L489.80,1672.55 L492.86,1671.17 L495.93,1669.76 L498.99,1668.34 L502.06,1666.90 L505.12,1665.45 L508.19,1663.98 L511.25,1662.51 L514.31,1661.02 L517.38,1659.53 L520.44,1658.03 L523.51,1656.52 L526.57,1655.00 L529.64,1653.48 L532.70,1651.96 L535.77,1650.44 L538.83,1648.91 L541.89,1647.39 L544.96,1645.87 L548.02,1644.34 L551.09,1642.82 L554.15,1641.29 L557.22,1639.76 L560.28,1638.22 L563.35,1636.68 L566.41,1635.13 L569.48,1633.58 L572.54,1632.02 L575.60,1630.45 L578.67,1628.87 L581.73,1627.29 L584.80,1625.69 L587.86,1624.08 L590.93,1622.45 L593.99,1620.82 L597.06,1619.17 L600.12,1617.50 L603.18,1615.82 L606.25,1614.12 L609.31,1612.41 L612.38,1610.67 L615.44,1608.92 L618.51,1607.15 L621.57,1605.36 L624.64,1603.54 L627.70,1601.70 L630.77,1599.84 L633.83,1597.96 L636.89,1596.05 L639.96,1594.11 L643.02,1592.15 L646.09,1590.16 L649.15,1588.14 L652.22,1586.10 L655.28,1584.02 L658.35,1581.91 L661.41,1579.77 L664.47,1577.60 L667.54,1575.40 L670.60,1573.17 L673.67,1570.91 L676.73,1568.63 L679.80,1566.33 L682.86,1564.00 L685.93,1561.66 L688.99,1559.30 L692.06,1556.93 L695.12,1554.54 L698.18,1552.14 L701.25,1549.74 L704.31,1547.32 L707.38,1544.91 L710.44,1542.49 L713.51,1540.07 L716.57,1537.65 L719.64,1535.24 L722.70,1532.83 L725.76,1530.42 L728.83,1528.03 L731.89,1525.63 L734.96,1523.24 L738.02,1520.85 L741.09,1518.45 L744.15,1516.05 L747.22,1513.64 L750.28,1511.22 L753.35,1508.80 L756.41,1506.35 L759.47,1503.89 L762.54,1501.42 L765.60,1498.92 L768.67,1496.41 L771.73,1493.87 L774.80,1491.30 L777.86,1488.71 L780.93,1486.08 L783.99,1483.43 L787.05,1480.74 L790.12,1478.01 L793.18,1475.26 L796.25,1472.48 L799.31,1469.67 L802.38,1466.84 L805.44,1463.99 L808.51,1461.11 L811.57,1458.22 L814.64,1455.31 L817.70,1452.39 L820.76,1449.45 L823.83,1446.50 L826.89,1443.54 L829.96,1440.58 L833.02,1437.61 L836.09,1434.64 L839.15,1431.67 L842.22,1428.70 L845.28,1425.73 L848.34,1422.77 L851.41,1419.81 L854.47,1416.86 L857.54,1413.90 L860.60,1410.95 L863.67,1408.00 L866.73,1405.05 L869.80,1402.09 L872.86,1399.13 L875.93,1396.17 L878.99,1393.21 L882.05,1390.24 L885.12,1387.26 L888.18,1384.28 L891.25,1381.28 L894.31,1378.28 L897.38,1375.27 L900.44,1372.24 L903.51,1369.21 L906.57,1366.16 L909.63,1363.09 L912.70,1360.01 L915.76,1356.91 L918.83,1353.78 L921.89,1350.63 L924.96,1347.45 L928.02,1344.24 L931.09,1341.00 L934.15,1337.72 L937.22,1334.39 L940.28,1331.03 L943.34,1327.61 L946.41,1324.15 L949.47,1320.64 L952.54,1317.07 L955.60,1313.44 L958.67,1309.76 L961.73,1306.01 L964.80,1302.19 L967.86,1298.30 L970.92,1294.34 L973.99,1290.32 L977.05,1286.23 L980.12,1282.09 L983.18,1277.91 L986.25,1273.67 L989.31,1269.40 L992.38,1265.10 L995.44,1260.78 L998.51,1256.43 L1001.57,1252.07 L1004.63,1247.70 L1007.70,1243.33 L1010.76,1238.96 L1013.83,1234.60 L1016.89,1230.25 L1019.96,1225.93 L1023.02,1221.63 L1026.09,1217.37 L1029.15,1213.14 L1032.21,1208.96 L1035.28,1204.81 L1038.34,1200.71 L1041.41,1196.65 L1044.47,1192.62 L1047.54,1188.62 L1050.60,1184.66 L1053.67,1180.72 L1056.73,1176.81 L1059.80,1172.93 L1062.86,1169.06 L1065.92,1165.22 L1068.99,1161.40 L1072.05,1157.59 L1075.12,1153.79 L1078.18,1150.01 L1081.25,1146.23 L1084.31,1142.47 L1087.38,1138.70 L1090.44,1134.95 L1093.50,1131.19 L1096.57,1127.43 L1099.63,1123.66 L1102.70,1119.90 L1105.76,1116.13 L1108.83,1112.35 L1111.89,1108.56 L1114.96,1104.76 L1118.02,1100.96 L1121.09,1097.14 L1124.15,1093.30 L1127.21,1089.45 L1130.28,1085.58 L1133.34,1081.69 L1136.41,1077.79 L1139.47,1073.86 L1142.54,1069.90 L1145.60,1065.93 L1148.67,1061.92 L1151.73,1057.89 L1154.79,1053.83 L1157.86,1049.74 L1160.92,1045.62 L1163.99,1041.48 L1167.05,1037.30 L1170.12,1033.09 L1173.18,1028.85 L1176.25,1024.58 L1179.31,1020.28 L1182.38,1015.95 L1185.44,1011.59 L1188.50,1007.20 L1191.57,1002.78 L1194.63,998.32 L1197.70,993.84 L1200.76,989.32 L1203.83,984.78 L1206.89,980.20 L1209.96,975.59 L1213.02,970.94 L1216.08,966.27 L1219.15,961.56 L1222.21,956.84 L1225.28,952.09 L1228.34,947.32 L1231.41,942.54 L1234.47,937.75 L1237.54,932.95 L1240.60,928.16 L1243.67,923.36 L1246.73,918.57 L1249.79,913.78 L1252.86,909.01 L1255.92,904.25 L1258.99,899.52 L1262.05,894.80 L1265.12,890.12 L1268.18,885.46 L1271.25,880.84 L1274.31,876.26 L1277.37,871.72 L1280.44,867.22 L1283.50,862.76 L1286.57,858.35 L1289.63,853.98 L1292.70,849.65 L1295.76,845.37 L1298.83,841.14 L1301.89,836.95 L1304.96,832.81 L1308.02,828.71 L1311.08,824.66 L1314.15,820.66 L1317.21,816.70 L1320.28,812.80 L1323.34,808.94 L1326.41,805.13 L1329.47,801.38 L1332.54,797.67 L1335.60,794.01 L1338.66,790.41 L1341.73,786.85 L1344.79,783.35 L1347.86,779.90 L1350.92,776.51 L1353.99,773.17 L1357.05,769.88 L1360.12,766.64 L1363.18,763.46 L1366.25,760.33 L1369.31,757.26 L1372.37,754.24 L1375.44,751.27 L1378.50,748.37 L1381.57,745.51 L1384.63,742.72 L1387.70,739.98 L1390.76,737.30 L1393.83,734.67 L1396.89,732.11 L1399.95,729.60 L1403.02,727.14 L1406.08,724.75 L1409.15,722.40 L1412.21,720.12 L1415.28,717.88 L1418.34,715.70 L1421.41,713.56 L1424.47,711.48 L1427.54,709.45 L1430.60,707.46 L1433.66,705.52 L1436.73,703.63 L1439.79,701.78 L1442.86,699.97 L1445.92,698.21 L1448.99,696.49 L1452.05,694.81 L1455.12,693.17 L1458.18,691.57 L1461.24,690.01 L1464.31,688.48 L1467.37,686.99 L1470.44,685.53 L1473.50,684.09 L1476.57,682.69 L1479.63,681.31 L1482.70,679.96 L1485.76,678.63 L1488.83,677.33 L1491.89,676.04 L1494.95,674.76 L1498.02,673.51 L1501.08,672.26 L1504.15,671.03 L1507.21,669.81 L1510.28,668.59 L1513.34,667.38 L1516.41,666.17 L1519.47,664.97" stroke="#000" stroke-width="6.0" fill="none" stroke-linejoin="round" stroke-linecap="round"/>
<path d="M416.25,1720.02 L419.31,1719.19 L422.38,1718.36 L425.44,1717.53 L428.51,1716.70 L431.57,1715.85 L434.64,1715.01 L437.70,1714.15 L440.77,1713.28 L443.83,1712.41 L446.90,1711.52 L449.96,1710.62 L453.02,1709.70 L456.09,1708.76 L459.15,1707.81 L462.22,1706.84 L465.28,1705.85 L468.35,1704.84 L471.41,1703.81 L474.48,1702.75 L477.54,1701.66 L480.60,1700.55 L483.67,1699.41 L486.73,1698.25 L489.80,1697.07 L492.86,1695.87 L495.93,1694.65 L498.99,1693.41 L502.06,1692.15 L505.12,1690.88 L508.19,1689.60 L511.25,1688.31 L514.31,1687.01 L517.38,1685.70 L520.44,1684.38 L523.51,1683.06 L526.57,1681.74 L529.64,1680.42 L532.70,1679.09 L535.77,1677.77 L538.83,1676.45 L541.89,1675.14 L544.96,1673.83 L548.02,1672.53 L551.09,1671.22 L554.15,1669.92 L557.22,1668.62 L560.28,1667.32 L563.35,1666.02 L566.41,1664.72 L569.48,1663.41 L572.54,1662.10 L575.60,1660.79 L578.67,1659.47 L581.73,1658.14 L584.80,1656.80 L587.86,1655.46 L590.93,1654.11 L593.99,1652.74 L597.06,1651.37 L600.12,1649.98 L603.18,1648.58 L606.25,1647.17 L609.31,1645.74 L612.38,1644.30 L615.44,1642.84 L618.51,1641.36 L621.57,1639.87 L624.64,1638.36 L627.70,1636.83 L630.77,1635.28 L633.83,1633.71 L636.89,1632.12 L639.96,1630.51 L643.02,1628.88 L646.09,1627.22 L649.15,1625.55 L652.22,1623.84 L655.28,1622.12 L658.35,1620.36 L661.41,1618.59 L664.47,1616.78 L667.54,1614.95 L670.60,1613.10 L673.67,1611.22 L676.73,1609.32 L679.80,1607.40 L682.86,1605.47 L685.93,1603.51 L688.99,1601.54 L692.06,1599.56 L695.12,1597.56 L698.18,1595.56 L701.25,1593.54 L704.31,1591.51 L707.38,1589.47 L710.44,1587.43 L713.51,1585.39 L716.57,1583.34 L719.64,1581.29 L722.70,1579.23 L725.76,1577.18 L728.83,1575.13 L731.89,1573.07 L734.96,1571.01 L738.02,1568.95 L741.09,1566.88 L744.15,1564.79 L747.22,1562.70 L750.28,1560.60 L753.35,1558.49 L756.41,1556.36 L759.47,1554.21 L762.54,1552.04 L765.60,1549.86 L768.67,1547.66 L771.73,1545.43 L774.80,1543.18 L777.86,1540.90 L780.93,1538.60 L783.99,1536.27 L787.05,1533.90 L790.12,1531.51 L793.18,1529.10 L796.25,1526.65 L799.31,1524.18 L802.38,1521.69 L805.44,1519.18 L808.51,1516.64 L811.57,1514.09 L814.64,1511.52 L817.70,1508.93 L820.76,1506.33 L823.83,1503.72 L826.89,1501.09 L829.96,1498.45 L833.02,1495.80 L836.09,1493.15 L839.15,1490.49 L842.22,1487.82 L845.28,1485.15 L848.34,1482.48 L851.41,1479.80 L854.47,1477.12 L857.54,1474.44 L860.60,1471.75 L863.67,1469.06 L866.73,1466.36 L869.80,1463.66 L872.86,1460.95 L875.93,1458.23 L878.99,1455.51 L882.05,1452.78 L885.12,1450.04 L888.18,1447.29 L891.25,1444.53 L894.31,1441.77 L897.38,1438.99 L900.44,1436.20 L903.51,1433.40 L906.57,1430.59 L909.63,1427.77 L912.70,1424.94 L915.76,1422.08 L918.83,1419.22 L921.89,1416.33 L924.96,1413.42 L928.02,1410.49 L931.09,1407.54 L934.15,1404.56 L937.22,1401.56 L940.28,1398.52 L943.34,1395.46 L946.41,1392.36 L949.47,1389.23 L952.54,1386.07 L955.60,1382.86 L958.67,1379.62 L961.73,1376.34 L964.80,1373.02 L967.86,1369.66 L970.92,1366.25 L973.99,1362.79 L977.05,1359.30 L980.12,1355.77 L983.18,1352.21 L986.25,1348.61 L989.31,1344.98 L992.38,1341.33 L995.44,1337.65 L998.51,1333.96 L1001.57,1330.24 L1004.63,1326.51 L1007.70,1322.76 L1010.76,1319.01 L1013.83,1315.24 L1016.89,1311.47 L1019.96,1307.70 L1023.02,1303.92 L1026.09,1300.15 L1029.15,1296.39 L1032.21,1292.63 L1035.28,1288.88 L1038.34,1285.14 L1041.41,1281.41 L1044.47,1277.69 L1047.54,1273.99 L1050.60,1270.30 L1053.67,1266.62 L1056.73,1262.96 L1059.80,1259.31 L1062.86,1255.68 L1065.92,1252.07 L1068.99,1248.47 L1072.05,1244.90 L1075.12,1241.35 L1078.18,1237.82 L1081.25,1234.31 L1084.31,1230.82 L1087.38,1227.36 L1090.44,1223.93 L1093.50,1220.52 L1096.57,1217.13 L1099.63,1213.77 L1102.70,1210.43 L1105.76,1207.11 L1108.83,1203.81 L1111.89,1200.53 L1114.96,1197.27 L1118.02,1194.02 L1121.09,1190.79 L1124.15,1187.57 L1127.21,1184.36 L1130.28,1181.17 L1133.34,1177.98 L1136.41,1174.80 L1139.47,1171.63 L1142.54,1168.46 L1145.60,1165.30 L1148.67,1162.14 L1151.73,1158.99 L1154.79,1155.83 L1157.86,1152.67 L1160.92,1149.50 L1163.99,1146.32 L1167.05,1143.12 L1170.12,1139.90 L1173.18,1136.66 L1176.25,1133.39 L1179.31,1130.08 L1182.38,1126.74 L1185.44,1123.35 L1188.50,1119.92 L1191.57,1116.44 L1194.63,1112.90 L1197.70,1109.31 L1200.76,1105.65 L1203.83,1101.93 L1206.89,1098.13 L1209.96,1094.26 L1213.02,1090.31 L1216.08,1086.27 L1219.15,1082.16 L1222.21,1077.97 L1225.28,1073.71 L1228.34,1069.38 L1231.41,1064.99 L1234.47,1060.55 L1237.54,1056.05 L1240.60,1051.50 L1243.67,1046.91 L1246.73,1042.28 L1249.79,1037.61 L1252.86,1032.91 L1255.92,1028.19 L1258.99,1023.44 L1262.05,1018.68 L1265.12,1013.90 L1268.18,1009.12 L1271.25,1004.33 L1274.31,999.54 L1277.37,994.75 L1280.44,989.97 L1283.50,985.21 L1286.57,980.46 L1289.63,975.73 L1292.70,971.03 L1295.76,966.36 L1298.83,961.71 L1301.89,957.11 L1304.96,952.54 L1308.02,948.02 L1311.08,943.55 L1314.15,939.13 L1317.21,934.76 L1320.28,930.46 L1323.34,926.22 L1326.41,922.05 L1329.47,917.95 L1332.54,913.93 L1335.60,909.98 L1338.66,906.12 L1341.73,902.35 L1344.79,898.65 L1347.86,895.03 L1350.92,891.49 L1353.99,888.02 L1357.05,884.62 L1360.12,881.29 L1363.18,878.03 L1366.25,874.84 L1369.31,871.70 L1372.37,868.63 L1375.44,865.62 L1378.50,862.67 L1381.57,859.77 L1384.63,856.93 L1387.70,854.13 L1390.76,851.39 L1393.83,848.69 L1396.89,846.04 L1399.95,843.43 L1403.02,840.86 L1406.08,838.34 L1409.15,835.86 L1412.21,833.43 L1415.28,831.05 L1418.34,828.71 L1421.41,826.41 L1424.47,824.17 L1427.54,821.97 L1430.60,819.82 L1433.66,817.72 L1436.73,815.67 L1439.79,813.67 L1442.86,811.72 L1445.92,809.83 L1448.99,807.98 L1452.05,806.19 L1455.12,804.45 L1458.18,802.76 L1461.24,801.13 L1464.31,799.55 L1467.37,798.02 L1470.44,796.54 L1473.50,795.10 L1476.57,793.70 L1479.63,792.33 L1482.70,791.01 L1485.76,789.71 L1488.83,788.45 L1491.89,787.21 L1494.95,786.00 L1498.02,784.81 L1501.08,783.64 L1504.15,782.48 L1507.21,781.34 L1510.28,780.21 L1513.34,779.09 L1516.41,777.97 L1519.47,776.86" stroke="#000" stroke-width="3.1" fill="none" stroke-linejoin="round"/>
<path d="M416.25,1737.52 L419.31,1736.82 L422.38,1736.13 L425.44,1735.43 L428.51,1734.73 L431.57,1734.03 L434.64,1733.32 L437.70,1732.61 L440.77,1731.89 L443.83,1731.16 L446.90,1730.42 L449.96,1729.67 L453.02,1728.91 L456.09,1728.14 L459.15,1727.36 L462.22,1726.56 L465.28,1725.75 L468.35,1724.92 L471.41,1724.07 L474.48,1723.21 L477.54,1722.33 L480.60,1721.42 L483.67,1720.50 L486.73,1719.56 L489.80,1718.61 L492.86,1717.64 L495.93,1716.66 L498.99,1715.66 L502.06,1714.65 L505.12,1713.63 L508.19,1712.60 L511.25,1711.57 L514.31,1710.53 L517.38,1709.48 L520.44,1708.42 L523.51,1707.37 L526.57,1706.31 L529.64,1705.25 L532.70,1704.19 L535.77,1703.13 L538.83,1702.08 L541.89,1701.02 L544.96,1699.97 L548.02,1698.93 L551.09,1697.88 L554.15,1696.83 L557.22,1695.78 L560.28,1694.73 L563.35,1693.68 L566.41,1692.62 L569.48,1691.56 L572.54,1690.49 L575.60,1689.41 L578.67,1688.32 L581.73,1687.23 L584.80,1686.12 L587.86,1685.01 L590.93,1683.88 L593.99,1682.73 L597.06,1681.58 L600.12,1680.40 L603.18,1679.21 L606.25,1678.01 L609.31,1676.79 L612.38,1675.55 L615.44,1674.30 L618.51,1673.03 L621.57,1671.74 L624.64,1670.44 L627.70,1669.13 L630.77,1667.80 L633.83,1666.46 L636.89,1665.10 L639.96,1663.73 L643.02,1662.34 L646.09,1660.94 L649.15,1659.53 L652.22,1658.11 L655.28,1656.67 L658.35,1655.21 L661.41,1653.75 L664.47,1652.27 L667.54,1650.78 L670.60,1649.28 L673.67,1647.77 L676.73,1646.24 L679.80,1644.71 L682.86,1643.16 L685.93,1641.60 L688.99,1640.03 L692.06,1638.45 L695.12,1636.86 L698.18,1635.26 L701.25,1633.65 L704.31,1632.03 L707.38,1630.40 L710.44,1628.76 L713.51,1627.11 L716.57,1625.45 L719.64,1623.79 L722.70,1622.11 L725.76,1620.43 L728.83,1618.73 L731.89,1617.03 L734.96,1615.32 L738.02,1613.59 L741.09,1611.84 L744.15,1610.09 L747.22,1608.31 L750.28,1606.52 L753.35,1604.71 L756.41,1602.88 L759.47,1601.02 L762.54,1599.15 L765.60,1597.25 L768.67,1595.32 L771.73,1593.37 L774.80,1591.40 L777.86,1589.39 L780.93,1587.36 L783.99,1585.29 L787.05,1583.19 L790.12,1581.07 L793.18,1578.91 L796.25,1576.72 L799.31,1574.51 L802.38,1572.28 L805.44,1570.02 L808.51,1567.74 L811.57,1565.44 L814.64,1563.12 L817.70,1560.78 L820.76,1558.43 L823.83,1556.06 L826.89,1553.68 L829.96,1551.28 L833.02,1548.88 L836.09,1546.46 L839.15,1544.04 L842.22,1541.61 L845.28,1539.18 L848.34,1536.75 L851.41,1534.31 L854.47,1531.86 L857.54,1529.41 L860.60,1526.95 L863.67,1524.49 L866.73,1522.01 L869.80,1519.53 L872.86,1517.04 L875.93,1514.53 L878.99,1512.02 L882.05,1509.49 L885.12,1506.95 L888.18,1504.39 L891.25,1501.82 L894.31,1499.23 L897.38,1496.63 L900.44,1494.00 L903.51,1491.36 L906.57,1488.70 L909.63,1486.02 L912.70,1483.32 L915.76,1480.59 L918.83,1477.85 L921.89,1475.08 L924.96,1472.30 L928.02,1469.49 L931.09,1466.66 L934.15,1463.81 L937.22,1460.93 L940.28,1458.03 L943.34,1455.11 L946.41,1452.17 L949.47,1449.20 L952.54,1446.21 L955.60,1443.20 L958.67,1440.16 L961.73,1437.10 L964.80,1434.01 L967.86,1430.90 L970.92,1427.76 L973.99,1424.60 L977.05,1421.42 L980.12,1418.21 L983.18,1414.99 L986.25,1411.74 L989.31,1408.48 L992.38,1405.20 L995.44,1401.90 L998.51,1398.59 L1001.57,1395.26 L1004.63,1391.92 L1007.70,1388.57 L1010.76,1385.20 L1013.83,1381.83 L1016.89,1378.45 L1019.96,1375.06 L1023.02,1371.66 L1026.09,1368.26 L1029.15,1364.85 L1032.21,1361.44 L1035.28,1358.03 L1038.34,1354.62 L1041.41,1351.22 L1044.47,1347.82 L1047.54,1344.44 L1050.60,1341.07 L1053.67,1337.72 L1056.73,1334.38 L1059.80,1331.07 L1062.86,1327.79 L1065.92,1324.53 L1068.99,1321.31 L1072.05,1318.12 L1075.12,1314.96 L1078.18,1311.85 L1081.25,1308.78 L1084.31,1305.76 L1087.38,1302.78 L1090.44,1299.86 L1093.50,1296.99 L1096.57,1294.17 L1099.63,1291.40 L1102.70,1288.68 L1105.76,1286.00 L1108.83,1283.36 L1111.89,1280.76 L1114.96,1278.20 L1118.02,1275.67 L1121.09,1273.17 L1124.15,1270.69 L1127.21,1268.24 L1130.28,1265.81 L1133.34,1263.40 L1136.41,1261.00 L1139.47,1258.62 L1142.54,1256.25 L1145.60,1253.88 L1148.67,1251.52 L1151.73,1249.16 L1154.79,1246.80 L1157.86,1244.43 L1160.92,1242.06 L1163.99,1239.66 L1167.05,1237.25 L1170.12,1234.81 L1173.18,1232.35 L1176.25,1229.84 L1179.31,1227.30 L1182.38,1224.72 L1185.44,1222.08 L1188.50,1219.39 L1191.57,1216.64 L1194.63,1213.83 L1197.70,1210.95 L1200.76,1208.00 L1203.83,1204.97 L1206.89,1201.86 L1209.96,1198.66 L1213.02,1195.36 L1216.08,1191.97 L1219.15,1188.49 L1222.21,1184.92 L1225.28,1181.26 L1228.34,1177.51 L1231.41,1173.68 L1234.47,1169.78 L1237.54,1165.80 L1240.60,1161.75 L1243.67,1157.63 L1246.73,1153.44 L1249.79,1149.19 L1252.86,1144.89 L1255.92,1140.52 L1258.99,1136.11 L1262.05,1131.64 L1265.12,1127.13 L1268.18,1122.57 L1271.25,1117.98 L1274.31,1113.35 L1277.37,1108.68 L1280.44,1103.99 L1283.50,1099.27 L1286.57,1094.54 L1289.63,1089.79 L1292.70,1085.03 L1295.76,1080.27 L1298.83,1075.51 L1301.89,1070.76 L1304.96,1066.01 L1308.02,1061.29 L1311.08,1056.59 L1314.15,1051.92 L1317.21,1047.27 L1320.28,1042.67 L1323.34,1038.11 L1326.41,1033.59 L1329.47,1029.13 L1332.54,1024.73 L1335.60,1020.38 L1338.66,1016.11 L1341.73,1011.90 L1344.79,1007.76 L1347.86,1003.69 L1350.92,999.69 L1353.99,995.76 L1357.05,991.90 L1360.12,988.10 L1363.18,984.38 L1366.25,980.73 L1369.31,977.15 L1372.37,973.64 L1375.44,970.19 L1378.50,966.83 L1381.57,963.53 L1384.63,960.30 L1387.70,957.15 L1390.76,954.07 L1393.83,951.06 L1396.89,948.13 L1399.95,945.26 L1403.02,942.47 L1406.08,939.75 L1409.15,937.10 L1412.21,934.52 L1415.28,932.01 L1418.34,929.56 L1421.41,927.17 L1424.47,924.85 L1427.54,922.59 L1430.60,920.39 L1433.66,918.25 L1436.73,916.16 L1439.79,914.14 L1442.86,912.16 L1445.92,910.25 L1448.99,908.38 L1452.05,906.57 L1455.12,904.80 L1458.18,903.09 L1461.24,901.42 L1464.31,899.79 L1467.37,898.21 L1470.44,896.67 L1473.50,895.17 L1476.57,893.70 L1479.63,892.27 L1482.70,890.86 L1485.76,889.49 L1488.83,888.14 L1491.89,886.81 L1494.95,885.51 L1498.02,884.23 L1501.08,882.96 L1504.15,881.70 L1507.21,880.46 L1510.28,879.23 L1513.34,878.00 L1516.41,876.78 L1519.47,875.56" stroke="#000" stroke-width="3.1" fill="none" stroke-linejoin="round"/>
<path d="M416.25,1756.90 L419.31,1756.22 L422.38,1755.54 L425.44,1754.86 L428.51,1754.18 L431.57,1753.50 L434.64,1752.82 L437.70,1752.13 L440.77,1751.45 L443.83,1750.76 L446.90,1750.07 L449.96,1749.39 L453.02,1748.70 L456.09,1748.01 L459.15,1747.31 L462.22,1746.62 L465.28,1745.92 L468.35,1745.22 L471.41,1744.52 L474.48,1743.81 L477.54,1743.10 L480.60,1742.39 L483.67,1741.68 L486.73,1740.96 L489.80,1740.24 L492.86,1739.52 L495.93,1738.79 L498.99,1738.06 L502.06,1737.32 L505.12,1736.58 L508.19,1735.84 L511.25,1735.09 L514.31,1734.33 L517.38,1733.57 L520.44,1732.81 L523.51,1732.04 L526.57,1731.26 L529.64,1730.48 L532.70,1729.69 L535.77,1728.90 L538.83,1728.10 L541.89,1727.29 L544.96,1726.48 L548.02,1725.66 L551.09,1724.84 L554.15,1724.00 L557.22,1723.16 L560.28,1722.31 L563.35,1721.46 L566.41,1720.59 L569.48,1719.72 L572.54,1718.84 L575.60,1717.95 L578.67,1717.05 L581.73,1716.15 L584.80,1715.23 L587.86,1714.31 L590.93,1713.37 L593.99,1712.43 L597.06,1711.48 L600.12,1710.52 L603.18,1709.54 L606.25,1708.56 L609.31,1707.56 L612.38,1706.56 L615.44,1705.54 L618.51,1704.51 L621.57,1703.47 L624.64,1702.42 L627.70,1701.35 L630.77,1700.27 L633.83,1699.18 L636.89,1698.07 L639.96,1696.95 L643.02,1695.81 L646.09,1694.66 L649.15,1693.49 L652.22,1692.30 L655.28,1691.10 L658.35,1689.88 L661.41,1688.65 L664.47,1687.40 L667.54,1686.13 L670.60,1684.84 L673.67,1683.55 L676.73,1682.23 L679.80,1680.91 L682.86,1679.57 L685.93,1678.22 L688.99,1676.86 L692.06,1675.49 L695.12,1674.11 L698.18,1672.73 L701.25,1671.33 L704.31,1669.94 L707.38,1668.53 L710.44,1667.12 L713.51,1665.71 L716.57,1664.30 L719.64,1662.89 L722.70,1661.47 L725.76,1660.06 L728.83,1658.64 L731.89,1657.22 L734.96,1655.79 L738.02,1654.36 L741.09,1652.92 L744.15,1651.47 L747.22,1650.00 L750.28,1648.52 L753.35,1647.02 L756.41,1645.51 L759.47,1643.97 L762.54,1642.41 L765.60,1640.83 L768.67,1639.22 L771.73,1637.59 L774.80,1635.92 L777.86,1634.22 L780.93,1632.49 L783.99,1630.72 L787.05,1628.92 L790.12,1627.08 L793.18,1625.21 L796.25,1623.30 L799.31,1621.36 L802.38,1619.40 L805.44,1617.40 L808.51,1615.38 L811.57,1613.33 L814.64,1611.26 L817.70,1609.17 L820.76,1607.06 L823.83,1604.93 L826.89,1602.79 L829.96,1600.62 L833.02,1598.45 L836.09,1596.26 L839.15,1594.06 L842.22,1591.85 L845.28,1589.64 L848.34,1587.42 L851.41,1585.19 L854.47,1582.95 L857.54,1580.71 L860.60,1578.46 L863.67,1576.21 L866.73,1573.95 L869.80,1571.68 L872.86,1569.41 L875.93,1567.12 L878.99,1564.83 L882.05,1562.53 L885.12,1560.23 L888.18,1557.91 L891.25,1555.59 L894.31,1553.26 L897.38,1550.92 L900.44,1548.57 L903.51,1546.22 L906.57,1543.85 L909.63,1541.48 L912.70,1539.09 L915.76,1536.70 L918.83,1534.29 L921.89,1531.86 L924.96,1529.42 L928.02,1526.96 L931.09,1524.48 L934.15,1521.98 L937.22,1519.46 L940.28,1516.92 L943.34,1514.35 L946.41,1511.75 L949.47,1509.13 L952.54,1506.47 L955.60,1503.79 L958.67,1501.07 L961.73,1498.33 L964.80,1495.54 L967.86,1492.72 L970.92,1489.86 L973.99,1486.97 L977.05,1484.04 L980.12,1481.08 L983.18,1478.09 L986.25,1475.08 L989.31,1472.04 L992.38,1468.97 L995.44,1465.88 L998.51,1462.78 L1001.57,1459.66 L1004.63,1456.52 L1007.70,1453.36 L1010.76,1450.20 L1013.83,1447.03 L1016.89,1443.85 L1019.96,1440.67 L1023.02,1437.48 L1026.09,1434.29 L1029.15,1431.10 L1032.21,1427.92 L1035.28,1424.74 L1038.34,1421.58 L1041.41,1418.43 L1044.47,1415.30 L1047.54,1412.19 L1050.60,1409.10 L1053.67,1406.05 L1056.73,1403.03 L1059.80,1400.05 L1062.86,1397.11 L1065.92,1394.22 L1068.99,1391.38 L1072.05,1388.59 L1075.12,1385.86 L1078.18,1383.19 L1081.25,1380.58 L1084.31,1378.04 L1087.38,1375.58 L1090.44,1373.19 L1093.50,1370.89 L1096.57,1368.65 L1099.63,1366.49 L1102.70,1364.40 L1105.76,1362.37 L1108.83,1360.39 L1111.89,1358.47 L1114.96,1356.59 L1118.02,1354.75 L1121.09,1352.96 L1124.15,1351.19 L1127.21,1349.45 L1130.28,1347.74 L1133.34,1346.04 L1136.41,1344.36 L1139.47,1342.69 L1142.54,1341.02 L1145.60,1339.35 L1148.67,1337.67 L1151.73,1335.98 L1154.79,1334.28 L1157.86,1332.56 L1160.92,1330.81 L1163.99,1329.03 L1167.05,1327.22 L1170.12,1325.37 L1173.18,1323.48 L1176.25,1321.54 L1179.31,1319.55 L1182.38,1317.51 L1185.44,1315.40 L1188.50,1313.22 L1191.57,1310.98 L1194.63,1308.66 L1197.70,1306.26 L1200.76,1303.78 L1203.83,1301.21 L1206.89,1298.55 L1209.96,1295.79 L1213.02,1292.92 L1216.08,1289.96 L1219.15,1286.88 L1222.21,1283.71 L1225.28,1280.44 L1228.34,1277.07 L1231.41,1273.60 L1234.47,1270.05 L1237.54,1266.41 L1240.60,1262.68 L1243.67,1258.87 L1246.73,1254.98 L1249.79,1251.01 L1252.86,1246.96 L1255.92,1242.85 L1258.99,1238.66 L1262.05,1234.41 L1265.12,1230.09 L1268.18,1225.70 L1271.25,1221.26 L1274.31,1216.77 L1277.37,1212.22 L1280.44,1207.62 L1283.50,1202.97 L1286.57,1198.29 L1289.63,1193.58 L1292.70,1188.84 L1295.76,1184.08 L1298.83,1179.30 L1301.89,1174.52 L1304.96,1169.73 L1308.02,1164.94 L1311.08,1160.16 L1314.15,1155.39 L1317.21,1150.64 L1320.28,1145.91 L1323.34,1141.21 L1326.41,1136.54 L1329.47,1131.92 L1332.54,1127.34 L1335.60,1122.81 L1338.66,1118.34 L1341.73,1113.93 L1344.79,1109.57 L1347.86,1105.28 L1350.92,1101.05 L1353.99,1096.89 L1357.05,1092.79 L1360.12,1088.76 L1363.18,1084.80 L1366.25,1080.91 L1369.31,1077.10 L1372.37,1073.36 L1375.44,1069.69 L1378.50,1066.11 L1381.57,1062.60 L1384.63,1059.18 L1387.70,1055.83 L1390.76,1052.58 L1393.83,1049.40 L1396.89,1046.32 L1399.95,1043.33 L1403.02,1040.42 L1406.08,1037.59 L1409.15,1034.85 L1412.21,1032.19 L1415.28,1029.61 L1418.34,1027.10 L1421.41,1024.67 L1424.47,1022.30 L1427.54,1020.01 L1430.60,1017.78 L1433.66,1015.61 L1436.73,1013.51 L1439.79,1011.46 L1442.86,1009.47 L1445.92,1007.53 L1448.99,1005.65 L1452.05,1003.81 L1455.12,1002.02 L1458.18,1000.28 L1461.24,998.58 L1464.31,996.92 L1467.37,995.29 L1470.44,993.71 L1473.50,992.15 L1476.57,990.63 L1479.63,989.14 L1482.70,987.67 L1485.76,986.23 L1488.83,984.82 L1491.89,983.42 L1494.95,982.05 L1498.02,980.69 L1501.08,979.34 L1504.15,978.01 L1507.21,976.69 L1510.28,975.38 L1513.34,974.07 L1516.41,972.77 L1519.47,971.47" stroke="#000" stroke-width="3.1" fill="none" stroke-linejoin="round"/>
<rect x="416.25" y="323.75" width="1103.22" height="1441.75" fill="none" stroke="#000" stroke-width="3.6"/>
</g>
<g id="text">
<text x="112.60" y="155.70" font-size="44.38" font-weight="bold" font-style="normal" text-anchor="start" >Intrauterine Growth Curves</text>
<text x="843.59" y="155.30" font-size="38.62" font-weight="normal" font-style="normal" text-anchor="start" >Name</text>
<text x="837.80" y="235.50" font-size="37.73" font-weight="normal" font-style="normal" text-anchor="start" >Record #</text>
<text x="112.99" y="285.50" font-size="44.61" font-weight="bold" font-style="normal" text-anchor="start" >FEMALES</text>
<text x="452.39" y="384.80" font-size="40.92" font-weight="bold" font-style="normal" text-anchor="start" >Birth Weight</text>
<text x="0" y="0" font-size="42.50" font-weight="bold" text-anchor="end" transform="translate(389.50,1751.97) scale(1,1.065)">500</text>
<text x="0" y="0" font-size="42.50" font-weight="bold" text-anchor="end" transform="translate(389.50,1576.13) scale(1,1.065)">1000</text>
<text x="0" y="0" font-size="42.50" font-weight="bold" text-anchor="end" transform="translate(389.50,1400.29) scale(1,1.065)">1500</text>
<text x="0" y="0" font-size="42.50" font-weight="bold" text-anchor="end" transform="translate(389.50,1224.45) scale(1,1.065)">2000</text>
<text x="0" y="0" font-size="42.50" font-weight="bold" text-anchor="end" transform="translate(389.50,1048.61) scale(1,1.065)">2500</text>
<text x="0" y="0" font-size="42.50" font-weight="bold" text-anchor="end" transform="translate(389.50,872.77) scale(1,1.065)">3000</text>
<text x="0" y="0" font-size="42.50" font-weight="bold" text-anchor="end" transform="translate(389.50,696.93) scale(1,1.065)">3500</text>
<text x="0" y="0" font-size="42.50" font-weight="bold" text-anchor="end" transform="translate(389.50,521.09) scale(1,1.065)">4000</text>
<text x="0" y="0" font-size="42.50" font-weight="bold" text-anchor="end" transform="translate(389.50,345.25) scale(1,1.065)">4500</text>
<text x="417.25" y="1824.00" font-size="43.00" font-weight="bold" text-anchor="middle">23</text>
<text x="539.83" y="1824.00" font-size="43.00" font-weight="bold" text-anchor="middle">25</text>
<text x="662.41" y="1824.00" font-size="43.00" font-weight="bold" text-anchor="middle">27</text>
<text x="784.99" y="1824.00" font-size="43.00" font-weight="bold" text-anchor="middle">29</text>
<text x="907.57" y="1824.00" font-size="43.00" font-weight="bold" text-anchor="middle">31</text>
<text x="1030.15" y="1824.00" font-size="43.00" font-weight="bold" text-anchor="middle">33</text>
<text x="1152.73" y="1824.00" font-size="43.00" font-weight="bold" text-anchor="middle">35</text>
<text x="1275.31" y="1824.00" font-size="43.00" font-weight="bold" text-anchor="middle">37</text>
<text x="1397.89" y="1824.00" font-size="43.00" font-weight="bold" text-anchor="middle">39</text>
<text x="1520.47" y="1824.00" font-size="43.00" font-weight="bold" text-anchor="middle">41</text>
<text x="417.25" y="1873.00" font-size="36.00" font-weight="bold" font-style="normal" text-anchor="middle" >*</text>
<text x="970.90" y="1897.20" font-size="42.76" font-weight="bold" font-style="normal" text-anchor="middle" >Gestational Age, weeks</text>
<text x="0" y="0" font-size="44.40" font-weight="bold" text-anchor="middle" transform="translate(254.40,1058.10) rotate(-90)">Grams</text>
<text x="1531.00" y="356.90" font-size="28.00">97th</text>
<text x="1531.00" y="462.50" font-size="28.00">90th</text>
<text x="1531.00" y="559.75" font-size="28.00">75th</text>
<text x="1531.00" y="672.40" font-size="28.00">50th</text>
<text x="1531.00" y="783.75" font-size="28.00">25th</text>
<text x="1531.00" y="881.00" font-size="28.00">10th</text>
<text x="1531.00" y="982.50" font-size="28.00">3rd</text>
<text x="151.50" y="1942.75" font-size="25.28" font-weight="normal" font-style="normal" text-anchor="start" >Reproduced with permission from: Olsen IE, Groveman S, Lawson ML, Clark R, Zemel B. New intrauterine growth curves based on U.S. data.</text>
<text x="153.25" y="1971.25" font-size="25.29" font-weight="normal" font-style="normal" text-anchor="start" ><tspan font-style="italic">Pediatrics</tspan>, Volume 125, Pages e214-e244. Copyright 2010 by the American Academy of Pediatrics.&#160; Data source: Pediatrix Medical Group</text>
<text x="132.50" y="2071.25" font-size="38.00" font-weight="bold" font-style="normal" text-anchor="start" >BIRTH SIZE ASSESSMENT</text>
</g>
<line x1="956" y1="160.5" x2="1778" y2="160.5" stroke="#000" stroke-width="2.4"/>
<line x1="1002.5" y1="241.25" x2="1782" y2="241.25" stroke="#000" stroke-width="2.4"/>
<line x1="708" y1="391" x2="868" y2="391" stroke="#000" stroke-width="3.2"/>
<text x="867.8" y="384.8" font-size="40.8" font-weight="bold">g</text>
<g id="table">
<line x1="368.5" y1="2094.5" x2="1563" y2="2094.5" stroke="#000" stroke-width="2.4"/><line x1="368.5" y1="2139.5" x2="1563" y2="2139.5" stroke="#000" stroke-width="2.4"/><line x1="368.5" y1="2190" x2="1563" y2="2190" stroke="#000" stroke-width="2.4"/><line x1="368.5" y1="2240.75" x2="1563" y2="2240.75" stroke="#000" stroke-width="2.4"/><line x1="368.5" y1="2291.25" x2="1563" y2="2291.25" stroke="#000" stroke-width="2.4"/><line x1="369.5" y1="2093.5" x2="369.5" y2="2292.25" stroke="#000" stroke-width="2.4"/><line x1="1278" y1="2093.5" x2="1278" y2="2292.25" stroke="#000" stroke-width="2.4"/><line x1="1562" y1="2093.5" x2="1562" y2="2292.25" stroke="#000" stroke-width="2.4"/><rect x="1406.5" y="2150.25" width="28.5" height="27.75" fill="none" stroke="#000" stroke-width="3.2"/><rect x="1405.75" y="2200.75" width="28.5" height="27.25" fill="none" stroke="#000" stroke-width="3.2"/><rect x="1406.5" y="2251.5" width="28.5" height="27" fill="none" stroke="#000" stroke-width="3.2"/>
<text x="385.87" y="2130.00" font-size="31.78" font-weight="bold" text-anchor="start">Date of birth:</text><text x="688.50" y="2130.00" font-size="36.00" font-weight="normal" text-anchor="start">/</text><text x="804.00" y="2130.00" font-size="36.00" font-weight="normal" text-anchor="start">/</text><text x="983.00" y="2130.00" font-size="31.40" font-weight="bold" text-anchor="start">(</text><text x="1126.39" y="2130.00" font-size="31.33" font-weight="bold" text-anchor="start">wks GA)</text><text x="1420.00" y="2128.00" font-size="31.81" font-weight="bold" text-anchor="middle">Select one</text><text x="385.88" y="2175.90" font-size="31.61" font-weight="bold" text-anchor="start">Large-for-gestational age (LGA)</text><text x="386.90" y="2226.30" font-size="31.58" font-weight="bold" text-anchor="start">Appropriate-for-gestational age (AGA)</text><text x="386.89" y="2276.60" font-size="31.55" font-weight="bold" text-anchor="start">Small-for-gestational age (SGA)</text><text x="887.28" y="2176.90" font-size="28.64" font-weight="bold" text-anchor="start">&gt;90<tspan font-size="18.5" dy="-14.4">th</tspan><tspan dy="14.4" font-size="28.6"> percentile</tspan></text><text x="983.84" y="2227.20" font-size="28.56" font-weight="bold" text-anchor="start">10-90<tspan font-size="18.5" dy="-14.4">th</tspan><tspan dy="14.4" font-size="28.6"> percentile</tspan></text><text x="887.83" y="2277.50" font-size="28.52" font-weight="bold" text-anchor="start">&lt;10<tspan font-size="18.5" dy="-14.4">th</tspan><tspan dy="14.4" font-size="28.6"> percentile</tspan></text><text x="113.40" y="2380.50" font-size="28.45"><tspan font-weight="bold">*</tspan><tspan> 3</tspan><tspan font-size="19" dy="-14.2">rd</tspan><tspan dy="14.2"> and 97</tspan><tspan font-size="19" dy="-14.2">th</tspan><tspan dy="14.2"> percentiles on all curves for 23 weeks should be interpreted cautiously given the small sample size.</tspan></text>
</g>
</svg>
</body></html>
